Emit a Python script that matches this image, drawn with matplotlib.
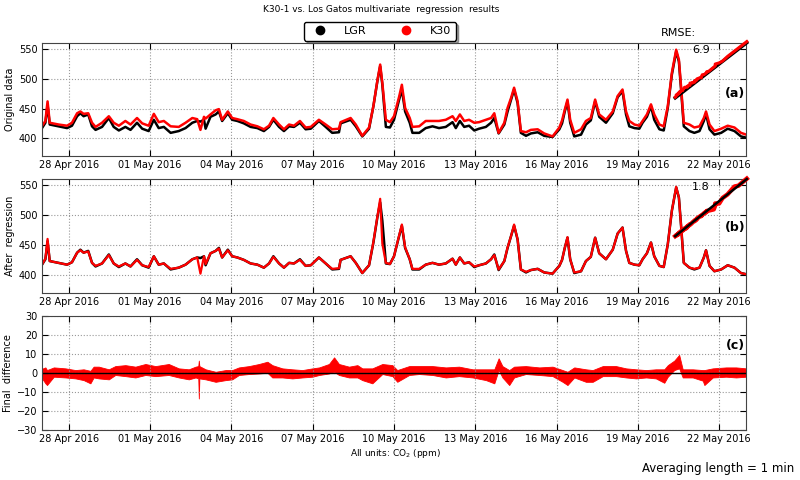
import numpy as np
import pandas as pd
import matplotlib
matplotlib.use('Agg')
import matplotlib.pyplot as plt
import matplotlib.dates as mdates
from matplotlib.lines import Line2D

# time of each reading, days after 27 Apr 2016 00:00
t_days = [-0.04, 0.14, 0.22, 0.30, 0.63, 0.94, 1.12, 1.31, 1.43, 1.55, 1.72, 1.86, 1.99,
          2.23, 2.48, 2.66, 2.85, 3.09, 3.28, 3.52, 3.71, 3.95, 4.14, 4.32, 4.51, 4.76,
          5.06, 5.31, 5.56, 5.74, 5.86, 5.99, 6.05, 6.23, 6.42, 6.54, 6.66, 6.87, 7.03,
          7.22, 7.46, 7.71, 7.96, 8.20, 8.39, 8.55, 8.76, 8.94, 9.13, 9.31, 9.53, 9.74,
          9.93, 10.23, 10.48, 10.72, 10.97, 11.03, 11.40, 11.59, 11.83, 12.08, 12.24,
          12.39, 12.49, 12.57, 12.70, 12.85, 13.00, 13.19, 13.29, 13.41, 13.58, 13.68,
          13.93, 14.17, 14.42, 14.66, 14.91, 15.16, 15.28, 15.43, 15.59, 15.77, 15.96,
          16.14, 16.39, 16.58, 16.70, 16.86, 17.07, 17.19, 17.32, 17.43, 17.56, 17.68,
          17.87, 18.05, 18.30, 18.54, 18.85, 19.10, 19.20, 19.30, 19.40, 19.50, 19.65,
          19.90, 20.08, 20.26, 20.42, 20.57, 20.82, 21.07, 21.25, 21.43, 21.56, 21.68,
          21.87, 22.05, 22.17, 22.33, 22.48, 22.60, 22.79, 22.95, 23.10, 23.25, 23.41,
          23.51, 23.59, 23.69, 23.90, 24.08, 24.27, 24.43, 24.51, 24.64, 24.82, 25.07,
          25.31, 25.56, 25.80, 25.99]

lgr = [413, 426, 456, 423, 420, 417, 421, 437, 442, 437, 440, 420, 414,
       419, 434, 419, 413, 419, 414, 426, 416, 412, 431, 417, 419, 409,
       412, 417, 426, 429, 428, 431, 416, 436, 440, 445, 429, 442, 431,
       429, 425, 419, 417, 412, 419, 431, 419, 412, 420, 419, 426, 415,
       416, 429, 419, 409, 410, 425, 431, 420, 403, 416, 454,
       497, 521, 490, 419, 418, 431, 465, 482, 445, 426, 409,
       409, 417, 420, 417, 419, 427, 417, 429, 419, 421, 413,
       416, 419, 426, 434, 408, 423, 445, 465, 482, 459, 409,
       404, 408, 410, 404, 402, 415, 425, 445, 462, 426, 403,
       406, 423, 430, 462, 436, 426, 442, 469, 479, 440, 420,
       417, 416, 426, 436, 454, 431, 415, 413, 451, 507, 546,
       529, 482, 420, 412, 409, 412, 429, 441, 415, 406, 409,
       416, 412, 403, 401]

k30_raw = [417, 429, 462, 426, 423, 421, 426, 442, 445, 441, 442, 426, 419,
           426, 437, 426, 421, 429, 423, 434, 425, 421, 441, 427, 429, 420,
           419, 426, 434, 432, 414, 436, 433, 440, 447, 449, 431, 445, 434,
           432, 429, 423, 420, 415, 421, 434, 423, 415, 423, 421, 429, 418,
           419, 431, 423, 415, 416, 427, 434, 423, 404, 418, 454,
           498, 524, 493, 431, 427, 437, 470, 490, 451, 434, 419,
           420, 429, 429, 429, 431, 437, 429, 440, 429, 431, 426,
           427, 431, 434, 442, 409, 426, 451, 468, 485, 462, 412,
           410, 414, 415, 408, 403, 418, 430, 448, 465, 431, 409,
           415, 429, 434, 465, 440, 431, 445, 471, 482, 445, 429,
           423, 421, 429, 440, 457, 440, 423, 420, 454, 510, 549,
           532, 487, 426, 423, 418, 420, 434, 445, 423, 412, 416,
           421, 418, 409, 406]

k30_reg = [413, 427, 460, 423, 420, 417, 421, 437, 441, 437, 439, 420, 415,
           419, 433, 419, 414, 419, 414, 425, 416, 413, 431, 417, 419, 410,
           412, 417, 426, 429, 402, 431, 418, 436, 440, 444, 429, 441, 431,
           429, 425, 419, 417, 412, 419, 430, 419, 412, 420, 419, 425, 415,
           416, 429, 419, 410, 411, 425, 431, 420, 403, 416, 455,
           498, 527, 452, 420, 418, 431, 466, 484, 446, 426, 410,
           410, 417, 420, 417, 419, 427, 417, 429, 419, 421, 414,
           416, 419, 426, 433, 409, 423, 446, 465, 484, 459, 409,
           405, 408, 410, 404, 402, 415, 425, 445, 463, 426, 404,
           406, 423, 430, 462, 436, 426, 442, 469, 479, 440, 420,
           417, 416, 426, 436, 454, 431, 415, 413, 451, 507, 547,
           529, 482, 420, 412, 410, 412, 429, 441, 415, 406, 409,
           416, 412, 403, 401]

# envelope of K30 - LGR after regression (panel c)
d_days = [-0.04, 0.14, 0.20, 0.45, 0.88, 1.25, 1.55, 1.80, 1.92, 2.11, 2.48, 2.72, 3.09,
          3.46, 3.83, 4.20, 4.69, 5.06, 5.43, 5.68, 5.78, 5.80, 5.82, 6.05, 6.42, 6.79,
          7.03, 7.28, 7.65, 8.02, 8.33, 8.51, 8.88, 9.25, 9.62, 9.99, 10.24, 10.60, 10.79,
          10.97, 11.34, 11.65, 11.83, 12.20, 12.57, 12.94, 13.12, 13.56, 13.93, 14.42,
          14.91, 15.40, 15.90, 16.39, 16.70, 16.86, 17.00, 17.25, 17.43, 17.86, 18.36,
          18.85, 19.22, 19.40, 19.65, 20.08, 20.33, 20.70, 21.19, 21.56, 21.93, 22.30,
          22.66, 22.97, 23.10, 23.34, 23.52, 23.65, 24.02, 24.39, 24.45, 24.76, 25.25,
          25.62, 25.99]
diff_lo = [-1.8, -5.6, -6.5, -2.1, -2.5, -3.0, -3.9, -5.6, -2.5, -3.0, -3.5, -1.2, -1.8,
           -2.5, -1.2, -1.8, -1.2, -2.5, -3.5, -2.5, -3.0, -13.6, -3.0, -3.5, -4.8, -3.9,
           -3.5, -1.2, -0.7, -0.4, 0.0, -2.5, -2.5, -3.0, -2.5, -2.1, -1.2, -0.4, 0.5,
           -1.2, -2.5, -2.5, -3.9, -5.6, -0.7, -1.8, -4.8, -1.2, -0.7, -1.2,
           -2.5, -1.8, -2.5, -3.9, -5.6, 1.4, -2.5, -6.5, -2.5, -0.7, -1.2,
           -1.8, -4.8, -6.5, -2.5, -4.8, -4.8, -1.8, -1.8, -2.5, -3.0, -2.5,
           -3.0, -5.3, -2.1, 1.4, 2.3, -2.5, -2.5, -4.2, -6.5, -2.5, -2.1,
           -2.5, -2.1]
diff_hi = [1.8, 2.8, 1.4, 2.8, 2.3, 1.4, 1.8, 1.0, 3.2, 3.2, 1.8, 3.5, 4.0,
           3.2, 4.6, 3.5, 4.6, 2.3, 1.8, 3.2, 3.5, 6.4, 3.5, 1.8, 0.5, 1.4,
           1.4, 2.8, 3.5, 4.6, 5.8, 4.0, 2.3, 1.8, 1.4, 2.3, 2.8, 4.6, 8.1,
           4.6, 3.2, 4.0, 2.3, 2.3, 4.6, 4.0, 1.4, 3.5, 3.5, 3.5,
           2.8, 3.2, 1.8, 1.8, 1.8, 7.6, 3.5, 1.4, 3.2, 3.5, 2.8,
           3.2, 1.4, 0.5, 2.8, 1.8, 1.4, 3.5, 3.5, 2.3, 1.8, 1.4,
           1.8, 1.8, 4.0, 6.4, 9.4, 1.8, 1.8, 1.4, 1.4, 2.3, 2.8,
           2.8, 2.3]

rmse_raw = 6.9
rmse_reg = 1.8

start = pd.Timestamp('2016-04-27')
t = start + pd.to_timedelta(t_days, unit='D')
td = start + pd.to_timedelta(d_days, unit='D')
ticks = pd.date_range('2016-04-28', periods=9, freq='3D')

plt.rcParams['font.family'] = 'DejaVu Sans'
fig = plt.figure(figsize=(8, 4.8), dpi=100)

left, width = 0.052, 0.881
ax_a = fig.add_axes([left, 0.675, width, 0.235])
ax_b = fig.add_axes([left, 0.390, width, 0.237])
ax_c = fig.add_axes([left, 0.105, width, 0.237])

ax_a.plot(t, lgr, color='black', lw=1.8)
ax_a.plot(t, k30_raw, color='red', lw=1.8)
ax_b.plot(t, lgr, color='black', lw=1.8)
ax_b.plot(t, k30_reg, color='red', lw=1.6)
ax_c.fill_between(td, diff_lo, diff_hi, color='red', lw=0.6, edgecolor='red')
ax_c.plot([start, start + pd.Timedelta(days=26)], [0, 0], color='black', lw=1.0)

for ax in (ax_a, ax_b, ax_c):
    ax.set_xlim(start, start + pd.Timedelta(days=26))
    ax.set_xticks(ticks)
    ax.xaxis.set_major_formatter(mdates.DateFormatter('%d %b %Y'))
    ax.grid(True, linestyle=':', color='#999999', lw=0.8)
    ax.tick_params(direction='in', top=True, right=True, labelsize=7, length=4, pad=3)
    for s in ax.spines.values():
        s.set_color('#444444')

for ax in (ax_a, ax_b):
    ax.set_ylim(370, 560)
    ax.set_yticks([400, 450, 500, 550])
ax_c.set_ylim(-30, 30)
ax_c.set_yticks([-30, -20, -10, 0, 10, 20, 30])

ax_a.set_ylabel('Original data', fontsize=7, labelpad=3)
ax_b.set_ylabel('After  regression', fontsize=7, labelpad=3)
ax_c.set_ylabel('Final  difference', fontsize=7, labelpad=3)

# K30 vs LGR insets (values ranked so the cloud reads as a band)
lgr_s = np.sort(lgr)
for pos, yv, top_black in (([0.844, 0.796, 0.0895, 0.115], np.sort(k30_raw), False),
                           ([0.844, 0.508, 0.0895, 0.119], np.sort(k30_reg), True)):
    ins = fig.add_axes(pos)
    ins.axis('off')
    ins.set_xlim(lgr_s.min(), lgr_s.max())
    ins.set_ylim(lgr_s.min(), lgr_s.max())
    if top_black:
        ins.plot(lgr_s, yv, color='red', lw=3.2, clip_on=False)
        ins.plot(lgr_s, lgr_s, color='black', lw=1.8, clip_on=False)
    else:
        ins.plot(lgr_s, lgr_s, color='black', lw=2.4, clip_on=False)
        ins.plot(lgr_s, yv, color='red', lw=2.2, clip_on=False)

fig.text(0.8475, 0.931, 'RMSE:', fontsize=8, ha='center', va='center')
fig.text(0.876, 0.896, f'{rmse_raw:.1f}', fontsize=8, ha='center', va='center')
fig.text(0.876, 0.611, f'{rmse_reg:.1f}', fontsize=8, ha='center', va='center')
fig.text(0.919, 0.806, '(a)', fontsize=9, fontweight='bold', ha='center', va='center')
fig.text(0.919, 0.525, '(b)', fontsize=9, fontweight='bold', ha='center', va='center')
fig.text(0.919, 0.281, '(c)', fontsize=9, fontweight='bold', ha='center', va='center')

fig.text(0.477, 0.981, 'K30-1 vs. Los Gatos multivariate  regression  results',
         fontsize=6.5, ha='center', va='center')
fig.text(0.494, 0.056, r'All units: $\mathrm{CO_2}$ (ppm)', fontsize=6.5,
         ha='center', va='center')
fig.text(0.8975, 0.023, 'Averaging length = 1 min', fontsize=8.5, ha='center', va='center')

handles = [Line2D([], [], ls='none', marker='o', color='black', markersize=6),
           Line2D([], [], ls='none', marker='o', color='red', markersize=6)]
leg = fig.legend(handles, ['LGR', 'K30'], loc='center', bbox_to_anchor=(0.475, 0.935),
                 ncol=2, fontsize=8, shadow=True, fancybox=True, numpoints=1,
                 handletextpad=1.2, columnspacing=2.5, borderpad=0.4)
leg.get_frame().set_edgecolor('black')

fig.savefig('out.png', dpi=100)
